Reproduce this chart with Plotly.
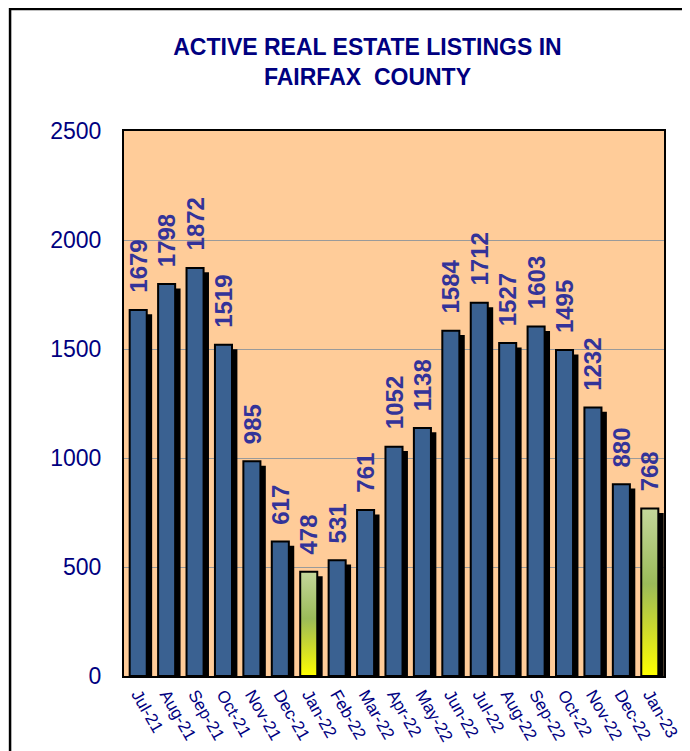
import plotly.graph_objects as go

months = ["Jul-21", "Aug-21", "Sep-21", "Oct-21", "Nov-21", "Dec-21", "Jan-22",
          "Feb-22", "Mar-22", "Apr-22", "May-22", "Jun-22", "Jul-22", "Aug-22",
          "Sep-22", "Oct-22", "Nov-22", "Dec-22", "Jan-23"]
listings = [1679, 1798, 1872, 1519, 985, 617, 478, 531, 761, 1052, 1138,
            1584, 1712, 1527, 1603, 1495, 1232, 880, 768]
highlight = ["Jan-22", "Jan-23"]
y_ticks = [0, 500, 1000, 1500, 2000, 2500]

NAVY = "#000080"
LABEL = "#333399"
BAR = "#3A6191"
BG = "#FFCC99"

idx = list(range(len(months)))
bar_w = 0.6
shadow_dx = 0.19
shadow_drop = 20

fig = go.Figure()

# shadow bars
fig.add_trace(go.Bar(
    x=[i + shadow_dx for i in idx], y=listings,
    base=[-shadow_drop] * len(idx),
    width=bar_w, marker=dict(color="black", line=dict(width=0)),
    hoverinfo="skip", showlegend=False))

# front bars (blue ones)
front_y = [v if m not in highlight else None for m, v in zip(months, listings)]
fig.add_trace(go.Bar(
    x=idx, y=front_y, width=bar_w,
    marker=dict(color=BAR, line=dict(color="black", width=2)),
    showlegend=False))

# gradient bars
for m, v, i in zip(months, listings, idx):
    if m in highlight:
        x0, x1 = i - bar_w / 2, i + bar_w / 2
        fig.add_trace(go.Scatter(
            x=[x0, x1, x1, x0, x0], y=[0, 0, v, v, 0],
            mode="lines", fill="toself",
            line=dict(color="black", width=2),
            fillgradient=dict(type="vertical", start=0, stop=v,
                              colorscale=[[0, "#FFFF00"], [0.3, "#C9D830"],
                                          [0.55, "#9BBB59"], [1, "#C4D79B"]]),
            hoverinfo="skip", showlegend=False))

# value labels
for m, v, i in zip(months, listings, idx):
    fig.add_annotation(
        x=i, y=v, text=str(v), showarrow=False, textangle=-90,
        xanchor="center", yanchor="bottom", yshift=15,
        font=dict(family="Arial", size=24, color=LABEL, weight="bold"))

# outer chart frame
fig.add_shape(type="rect", xref="paper", yref="paper",
              x0=-0.211, x1=1.2, y0=-0.3, y1=1.2239,
              line=dict(color="black", width=2.5), fillcolor="rgba(0,0,0,0)",
              layer="above")

W, H = 682, 743
L, T = 116, 123
PW, PH = 540, 545

fig.update_layout(
    width=W, height=H,
    margin=dict(l=L, r=W - L - PW, t=T, b=H - T - PH),
    paper_bgcolor="white", plot_bgcolor=BG,
    barmode="overlay",
    title=dict(text="ACTIVE REAL ESTATE LISTINGS IN<br>FAIRFAX  COUNTY",
               xref="container", yref="container",
               x=359.5 / W, y=1 - 47 / H, xanchor="center", yanchor="middle",
               font=dict(family="Arial", size=23, color=NAVY, weight="bold")),
    xaxis=dict(range=[-0.5, len(months) - 0.5], tickvals=idx, ticktext=months,
               tickangle=60, tickfont=dict(family="Arial", size=17, color=NAVY),
               ticks="", showgrid=False, zeroline=False, automargin=False,
               showline=True, mirror=True, linecolor="black", linewidth=2),
    yaxis=dict(range=[0, 2500], tickvals=y_ticks,
               tickfont=dict(family="Arial", size=23, color=NAVY),
               ticks="outside", ticklen=16, tickcolor="rgba(0,0,0,0)",
               showgrid=True, gridcolor="#9A9A9A", gridwidth=1,
               zeroline=False, automargin=False,
               showline=True, mirror=True, linecolor="black", linewidth=2),
)

fig.write_html("out.html")
